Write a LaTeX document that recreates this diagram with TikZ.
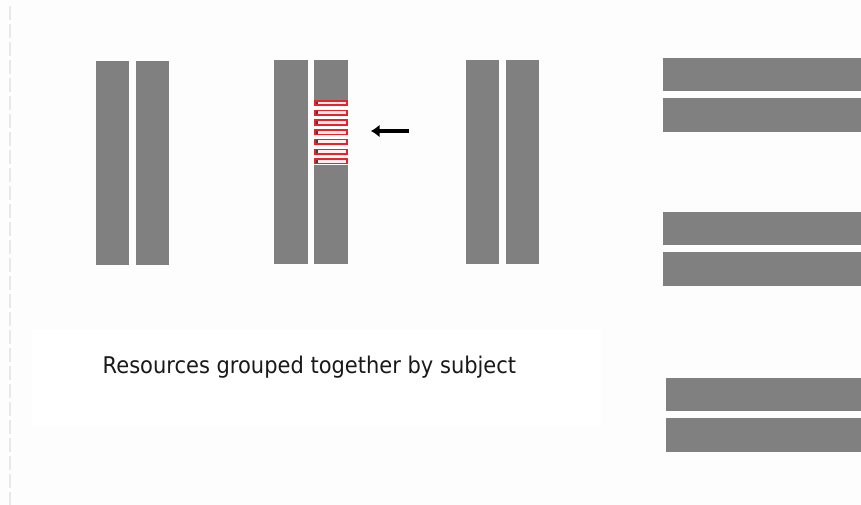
\documentclass[tikz,border=0pt]{standalone}
\usepackage{fontspec}
\setmainfont{DejaVu Sans}
\usepackage{graphicx}
\usetikzlibrary{positioning, arrows.meta}
\definecolor{paper}{RGB}{253,253,253}
\definecolor{shelf}{RGB}{128,128,128}
\definecolor{hilite}{RGB}{232,34,42}
\definecolor{slipfill}{RGB}{255,236,236}
\definecolor{tick}{RGB}{70,60,60}
\definecolor{margin}{RGB}{232,232,232}

\begin{document}
\begin{tikzpicture}[
  x=1pt, y=-1pt,
  vbar/.style={fill=shelf, inner sep=0pt, outer sep=0pt, anchor=north west,
               minimum width=33.4pt, minimum height=203.5pt},
  hbar/.style={fill=shelf, inner sep=0pt, outer sep=0pt, anchor=north west,
               minimum width=198.5pt, minimum height=33.3pt},
  hlbox/.style={fill=white, inner sep=0pt, outer sep=0pt, anchor=north west,
                minimum width=33.4pt, minimum height=65pt},
  slip/.style={draw=hilite, fill=slipfill, line width=1.6pt},
  pointer/.style={-{Latex[length=9pt, width=13pt]}, line width=3.6pt, draw=black},
  caption/.style={font=\fontsize{23}{27}\selectfont, text=black!90, inner sep=0pt}]
  \useasboundingbox (0,0) rectangle (861,505);
  \fill[paper] (0,0) rectangle (861,505);
  \fill[white] (32,329) rectangle (601,426);
  \draw[margin, line width=1.2pt, dash pattern=on 14pt off 4pt] (10,6) -- (10,505);
  % subject shelves, standing
  \node[vbar, minimum height=204pt] (s1a) at (95.7,61) {};
  \node[vbar, minimum height=204pt] (s1b) at (135.7,61) {};
  \node[vbar] (s2a) at (274.3,60) {};
  \node[vbar] (s2b) at (314.3,60) {};
  \node[vbar] (s3a) at (465.7,60) {};
  \node[vbar] (s3b) at (505.7,60) {};
  % the grouped resources on the second shelf
  \node[hlbox] (hl) at (314.3,100) {};
  \foreach \k in {0,...,6} {
    \draw[slip] (315.1,{100.8+9.72*\k}) rectangle (346.9,{105.3+9.72*\k});
    \draw[tick, line width=1.3pt] (316.9,{101.6+9.72*\k}) -- (316.9,{104.5+9.72*\k});
  }
  \coordinate (tail) at (408.5,131);
  \draw[pointer, shorten >=23pt] (tail) -- (hl.east |- tail);
  % shelves lying down
  \node[hbar] (h1a) at (662.7,57.7) {};
  \node[hbar] (h1b) at (662.7,98.3) {};
  \node[hbar] (h2a) at (662.7,211.7) {};
  \node[hbar] (h2b) at (662.7,252.3) {};
  \node[hbar, minimum width=195pt] (h3a) at (666,377.7) {};
  \node[hbar, minimum width=195pt] (h3b) at (666,418.3) {};
  \node[caption, anchor=base west] (cap) at (102.5,373.5)
    {\scalebox{0.913}[1]{Resources grouped together by subject}};
\end{tikzpicture}
\end{document}
